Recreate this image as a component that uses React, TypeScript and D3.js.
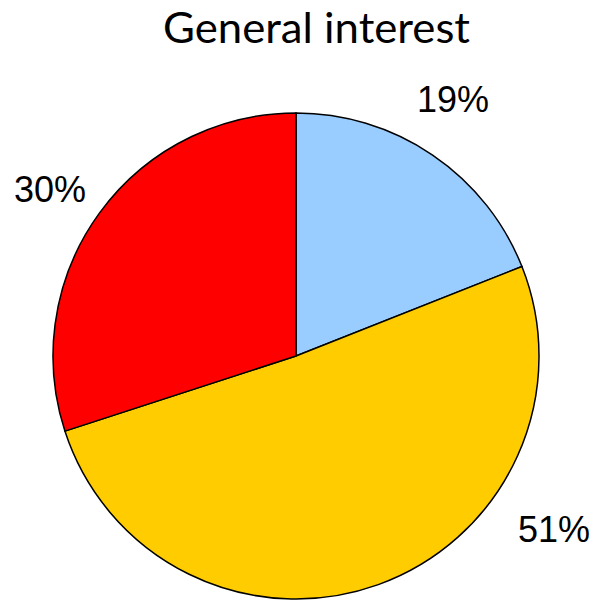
import React from "react";
import * as d3 from "d3";

const categories = ["A", "B", "C"];
const values = [19, 51, 30];
const labels = ["19%", "51%", "30%"];
const colors = ["#99ccff", "#ffcc00", "#ff0000"];
const labelPos = [
  [453, 112],
  [554, 542],
  [50, 202],
];

export default function App() {
  const W = 596, H = 601;
  const cx = 296, cy = 356, r = 243;
  const pie = d3.pie<number>().sort(null).value((d) => d)(values);
  const arc = d3.arc<d3.PieArcDatum<number>>().innerRadius(0).outerRadius(r);
  return (
    <svg width={W} height={H} style={{ position: "absolute", left: 0, top: 0 }}>
      <rect width={W} height={H} fill="#fff" />
      <text x={316.5} y={43} textAnchor="middle" fontFamily="Lato, 'Open Sans', sans-serif" fontSize={42}
        textLength={307} lengthAdjust="spacingAndGlyphs" fill="#000">
        General interest
      </text>
      <g transform={`translate(${cx},${cy})`}>
        {pie.map((p, i) => (
          <path key={categories[i]} d={arc(p) || ""} fill={colors[i]} stroke="#000" strokeWidth={1.5} />
        ))}
      </g>
      {labels.map((l, i) => (
        <text key={l} x={labelPos[i][0]} y={labelPos[i][1]} textAnchor="middle"
          fontFamily="'Liberation Sans', Arial, sans-serif" fontSize={36} fill="#000">
          {l}
        </text>
      ))}
    </svg>
  );
}
